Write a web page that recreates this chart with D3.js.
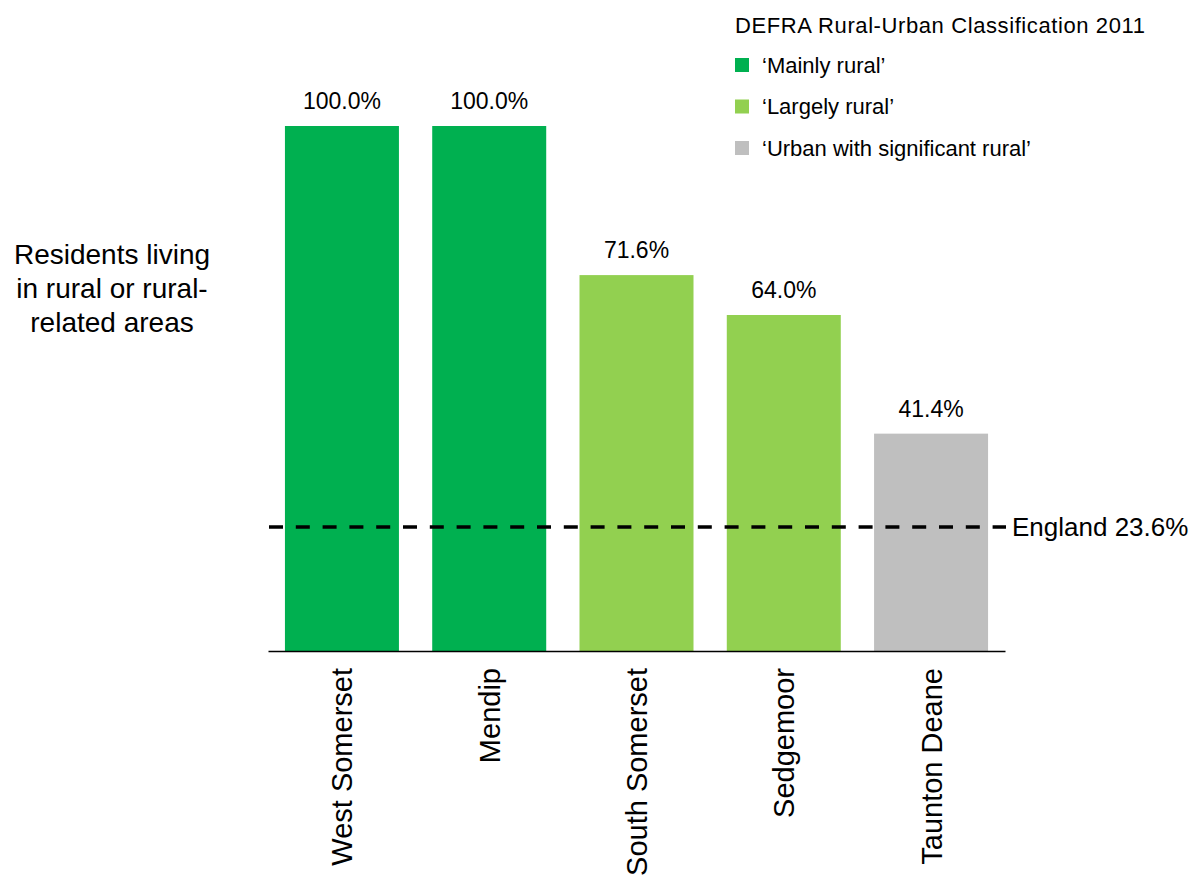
<!DOCTYPE html>
<html>
<head>
<meta charset="utf-8">
<script src="https://cdn.jsdelivr.net/npm/d3@7"></script>
<style>
  body { margin: 0; background: #fff; }
  text { font-family: "Liberation Sans", Arial, sans-serif; fill: #000; }
</style>
</head>
<body>
<div id="chart"></div>
<script>
// data
var districts = ["West Somerset", "Mendip", "South Somerset", "Sedgemoor", "Taunton Deane"];
var ruralShare = [100.0, 100.0, 71.6, 64.0, 41.4];
var classOf = ["Mainly rural", "Mainly rural", "Largely rural", "Largely rural", "Urban with significant rural"];
var classNames = ["Mainly rural", "Largely rural", "Urban with significant rural"];
var classColors = ["#00b050", "#92d050", "#bfbfbf"];
var englandShare = 23.6;

var svgWidth = 1196;
var svgHeight = 880;

var svg = d3.select("#chart")
  .append("svg")
  .attr("width", svgWidth)
  .attr("height", svgHeight);

// scales
var xScale = d3.scaleBand()
  .domain(districts)
  .range([268, 1005])
  .paddingInner(0.226)
  .paddingOuter(0.115);

var yScale = d3.scaleLinear()
  .domain([0, 100])
  .range([651, 126]);

var colorScale = d3.scaleOrdinal()
  .domain(classNames)
  .range(classColors);

var rows = districts.map(function(d, i) {
  return { name: d, value: ruralShare[i], cls: classOf[i] };
});

// bars
svg.append("g")
  .selectAll("rect")
  .data(rows)
  .enter()
  .append("rect")
  .attr("x", d => xScale(d.name))
  .attr("y", d => yScale(d.value))
  .attr("width", xScale.bandwidth())
  .attr("height", d => yScale(0) - yScale(d.value))
  .attr("fill", d => colorScale(d.cls));

// value labels
svg.append("g")
  .selectAll("text")
  .data(rows)
  .enter()
  .append("text")
  .attr("x", d => xScale(d.name) + xScale.bandwidth() / 2)
  .attr("y", d => yScale(d.value) - 17)
  .attr("text-anchor", "middle")
  .attr("font-size", "23px")
  .text(d => d.value.toFixed(1) + "%");

// x axis
var xAxis = d3.axisBottom(xScale).tickSize(0).tickSizeOuter(0);
var axisG = svg.append("g")
  .attr("transform", `translate(0, ${yScale(0)})`)
  .call(xAxis);
axisG.select(".domain")
  .attr("stroke", "#000")
  .attr("stroke-width", 1.6);
axisG.selectAll(".tick text")
  .attr("font-family", "Liberation Sans, Arial, sans-serif")
  .attr("font-size", "29px")
  .attr("fill", "#000")
  .attr("transform", "rotate(-90)")
  .attr("text-anchor", "end")
  .attr("x", -17)
  .attr("y", 0)
  .attr("dy", "0.36em");

// England reference line
svg.append("line")
  .attr("x1", 269)
  .attr("x2", 1006)
  .attr("y1", yScale(englandShare))
  .attr("y2", yScale(englandShare))
  .attr("stroke", "#000")
  .attr("stroke-width", 3.5)
  .attr("stroke-dasharray", "14,12.8");

svg.append("text")
  .attr("x", 1012)
  .attr("y", yScale(englandShare))
  .attr("dy", "0.36em")
  .attr("font-size", "26px")
  .text("England " + englandShare.toFixed(1) + "%");

// y title
var yTitle = svg.append("text")
  .attr("text-anchor", "middle")
  .attr("font-size", "28px");
["Residents living", "in rural or rural-", "related areas"].forEach(function(line, i) {
  yTitle.append("tspan")
    .attr("x", 112)
    .attr("y", 264 + i * 34)
    .text(line);
});

// legend
svg.append("text")
  .attr("x", 735)
  .attr("y", 33)
  .attr("font-size", "22px")
  .attr("textLength", 410)
  .text("DEFRA Rural-Urban Classification 2011");

var legend = svg.append("g")
  .selectAll("g")
  .data(classNames)
  .enter()
  .append("g")
  .attr("transform", (d, i) => `translate(735, ${65 + i * 41.5})`);

legend.append("rect")
  .attr("x", 0)
  .attr("y", -7)
  .attr("width", 14)
  .attr("height", 14)
  .attr("fill", d => colorScale(d));

legend.append("text")
  .attr("x", 27)
  .attr("dy", "0.36em")
  .attr("font-size", "22px")
  .text(d => "\u2018" + d + "\u2019");
</script>
</body>
</html>
